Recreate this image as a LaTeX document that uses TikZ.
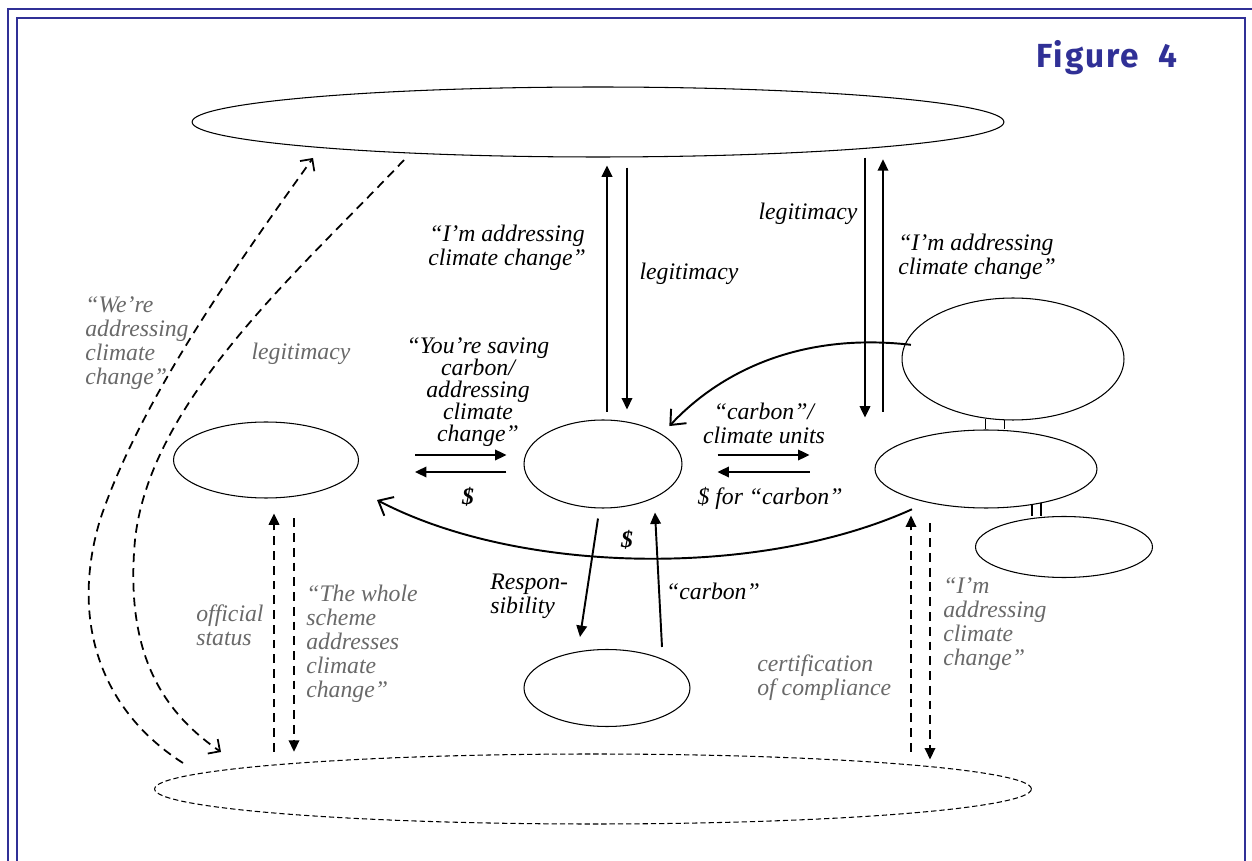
\documentclass[tikz,border=0pt]{standalone}
\usepackage{fontspec}
\setmainfont{Liberation Serif}
\newfontfamily\labelfont{Liberation Serif}
\newfontfamily\figfont[LetterSpace=6]{Fira Sans}
\usetikzlibrary{shapes.geometric,arrows.meta}
\definecolor{framenavy}{RGB}{48,48,150}
\definecolor{quotegrey}{RGB}{105,105,105}

\begin{document}
\begin{tikzpicture}[x=0.02cm,y=-0.02cm,
  blob/.style={ellipse,draw,line width=0.6pt,inner sep=0pt},
  say/.style={font=\labelfont\fontsize{13.5}{13.6}\selectfont\itshape,inner sep=0pt,align=left},
  saygrey/.style={say,text=quotegrey},
  arr/.style={line width=1.1pt,-{Triangle[length=6.5pt,width=6pt]}},
  barb/.style={line width=1.1pt,-{Straight Barb[length=7pt,width=12pt]}},
  dasharr/.style={arr,dash pattern=on 5pt off 3.4pt},
  dashcurve/.style={line width=1pt,dash pattern=on 5pt off 3.4pt,-{Straight Barb[length=5pt,width=10pt]}},
  link/.style={line width=0.8pt}]
  \useasboundingbox (0,0) rectangle (1252,861);

  % Frame
  \draw[framenavy,line width=0.9pt] (8,9) rectangle (1280,900);
  \draw[framenavy,line width=0.9pt] (17,18) rectangle (1245,900);
  \node[text=framenavy,font=\figfont\bfseries\fontsize{19}{20}\selectfont] (fig) at (1107,58) {Figure\ \ 4};

  % Ovals
  \node[blob,minimum width=16.24cm,minimum height=1.4cm] (topoval) at (598,122) {};
  \node[blob,minimum width=3.7cm,minimum height=1.52cm] (leftoval) at (266,460) {};
  \node[blob,minimum width=3.16cm,minimum height=1.76cm] (midoval) at (603,464) {};
  \node[blob,minimum width=4.44cm,minimum height=2.44cm] (rupoval) at (1013,359) {};
  \node[blob,minimum width=4.44cm,minimum height=1.56cm] (rmidoval) at (986,469) {};
  \node[blob,minimum width=3.54cm,minimum height=1.22cm] (rlowoval) at (1064,547) {};
  \node[blob,minimum width=3.32cm,minimum height=1.54cm] (lowoval) at (607,688) {};
  \node[blob,dash pattern=on 3pt off 1.7pt,minimum width=17.54cm,minimum height=1.4cm] (baseoval) at (593,789) {};

  % Links between the right ovals
  \draw[link] (rupoval.245) -- (rupoval.245 |- rmidoval.north);
  \draw[link] (rupoval.262) -- (rupoval.262 |- rmidoval.north);
  \draw[line width=1.2pt] (rmidoval.-38) -- (rmidoval.-38 |- rlowoval.north);
  \draw[line width=1.2pt] (rmidoval.-32) -- (rmidoval.-32 |- rlowoval.north);

  % Columns for the vertical arrows
  \coordinate (tcA) at (607,0);
  \coordinate (tcB) at (627,0);
  \coordinate (rpA) at (865,0);
  \coordinate (rpB) at (883,0);
  \coordinate (lcA) at (274,0);
  \coordinate (lcB) at (294,0);
  \coordinate (rcA) at (911,0);
  \coordinate (rcB) at (930,0);

  % Top arrows
  \draw[arr,shorten <=4.5pt,shorten >=4.5pt] (tcA |- midoval.north) -- (tcA |- topoval.south);
  \draw[arr,shorten <=5.7pt,shorten >=5.7pt] (tcB |- topoval.south) -- (tcB |- midoval.north);
  \draw[arr,shorten >=6.8pt] (rpA |- topoval.south) -- (rpA |- rmidoval.north);
  \draw[arr,shorten <=10.2pt,shorten >=1pt] (rpB |- rmidoval.north) -- (rpB |- topoval.south);

  % Side arrows
  \draw[arr] ([shift={(56,-5)}]leftoval.east) -- ([shift={(-17,-9)}]midoval.west);
  \draw[arr] ([shift={(-17,8)}]midoval.west) -- ([shift={(56,12)}]leftoval.east);
  \draw[arr] ([shift={(35,-9)}]midoval.east) -- ([shift={(-65,-14)}]rmidoval.west);
  \draw[arr] ([shift={(-65,3)}]rmidoval.west) -- ([shift={(35,8)}]midoval.east);

  % Lower arrows
  \draw[arr] ([shift={(-5,10)}]midoval.south) -- ([shift={(-27,-12)}]lowoval.north);
  \draw[arr] ([shift={(55,-2)}]lowoval.north) -- ([shift={(52,4)}]midoval.south);

  % Curved arrows
  \draw[barb] ([shift={(6,1)}]rupoval.172) .. controls (800,332) and (720,372) .. ([shift={(11,-6)}]midoval.30);
  \draw[barb] ([shift={(-14,7)}]rmidoval.209) .. controls (760,578) and (520,575) .. ([shift={(18,40)}]leftoval.east);

  % Dashed arrows
  \draw[dasharr,shorten <=1pt,shorten >=8.5pt] (lcA |- baseoval.north) -- (lcA |- leftoval.south);
  \draw[dasharr,shorten <=11.3pt,shorten >=1pt] (lcB |- leftoval.south) -- (lcB |- baseoval.north);
  \draw[dasharr,shorten <=1pt,shorten >=4pt] (rcA |- baseoval.north) -- (rcA |- rmidoval.south);
  \draw[dasharr,shorten <=8.5pt,shorten >=-3.4pt] (rcB |- rmidoval.south) -- (rcB |- baseoval.north);

  \coordinate (dA) at (183,763);
  \coordinate (dB) at (313,158);
  \coordinate (dC) at (404,160);
  \coordinate (dD) at (221,752);
  \draw[dashcurve] (dA) .. controls (100,710) and (70,620) .. (100,520)
    .. controls (140,400) and (240,260) .. (dB);
  \draw[dashcurve] (dC) .. controls (300,270) and (150,400) .. (135,540)
    .. controls (125,650) and (160,710) .. (dD);

  % Labels
  \node[say,align=center] (q1) at (507,248) {“I’m addressing\\climate change”};
  \node[say] (leg1) at (689,274) {legitimacy};
  \node[say] (leg2) at (808,214) {legitimacy};
  \node[say] (q2) at (977,257) {“I’m addressing\\climate change”};
  \node[saygrey,anchor=west] (q3) at (85,343) {“We’re\\addressing\\climate\\change”};
  \node[saygrey] (leg3) at (301,354) {legitimacy};
  \node[say,align=center,font=\labelfont\fontsize{13.5}{12.6}\selectfont\itshape] (q4) at (478,392) {“You’re saving\\carbon/\\addressing\\climate\\change”};
  \node[say,font=\labelfont\fontsize{13.5}{13.6}\selectfont\bfseries\itshape] (cash1) at (468,497) {\$};
  \node[say,align=center] (q5) at (764,423) {“carbon”/\\climate units};
  \node[say] (cash2) at (770,498) {\$ for “carbon”};
  \node[say,font=\labelfont\fontsize{13.5}{13.6}\selectfont\bfseries\itshape] (cash3) at (627,540) {\$};
  \node[say,anchor=west] (resp) at (490,596) {Respon-\\sibility};
  \node[say] (q6) at (713,591) {“carbon”};
  \node[saygrey,anchor=west] (offic) at (196,625) {official\\status};
  \node[saygrey,anchor=west] (q7) at (306,644) {“The whole\\scheme\\addresses\\climate\\change”};
  \node[saygrey,anchor=west] (cert) at (757,678) {certification\\of compliance};
  \node[saygrey,anchor=west] (q8) at (943,624) {“I’m\\addressing\\climate\\change”};
\end{tikzpicture}
\end{document}
